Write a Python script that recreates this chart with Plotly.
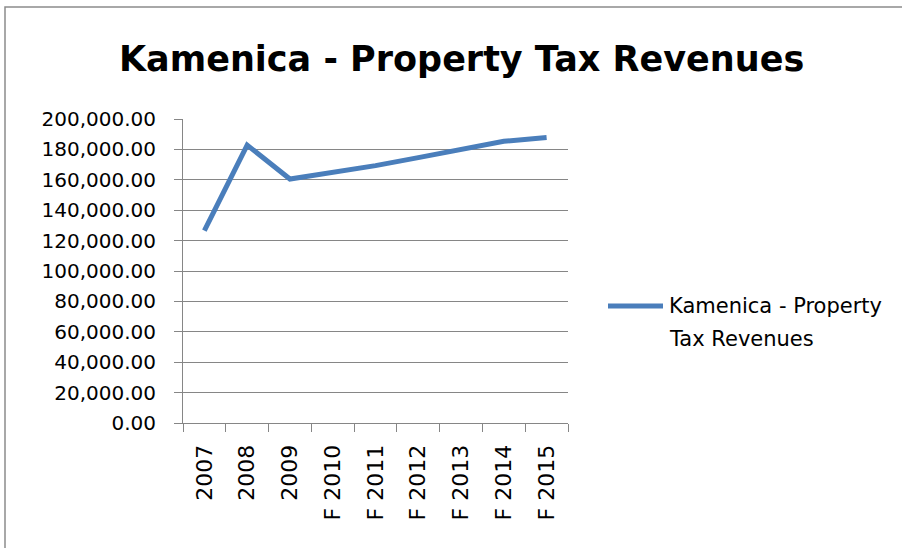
import plotly.graph_objects as go

categories = ["2007", "2008", "2009", "F 2010", "F 2011", "F 2012", "F 2013", "F 2014", "F 2015"]
revenues = [126600, 182800, 160500, 164600, 169300, 174600, 180000, 185300, 187800]
y_ticks = [0, 20000, 40000, 60000, 80000, 100000, 120000, 140000, 160000, 180000, 200000]
series_name = "Kamenica - Property Tax Revenues"
title_text = "Kamenica - Property Tax Revenues"

W, H = 902, 548
L, R, T, B = 183, 568, 119, 423
pw, ph = R - L, B - T

def px(x):
    return (x - L) / pw

def py(y):
    return (B - y) / ph

grid = "#868686"
blue = "#4A7EBB"
font = "DejaVu Sans"

fig = go.Figure()
fig.add_trace(go.Scatter(
    x=categories, y=revenues, mode="lines", name=series_name,
    line=dict(color=blue, width=5), showlegend=False,
))

fig.update_layout(
    width=W, height=H,
    margin=dict(l=L, r=W - R, t=T, b=H - B),
    paper_bgcolor="white", plot_bgcolor="white",
    font=dict(family=font, color="black", size=20),
    xaxis=dict(
        type="category", range=[-0.5, 8.5], tickangle=-90,
        showgrid=False, showline=True, linecolor=grid, linewidth=1,
        ticks="outside", tickson="boundaries", ticklen=8, tickcolor=grid,
        tickfont=dict(family=font, size=22), ticklabelstandoff=12,
        zeroline=False,
    ),
    yaxis=dict(
        range=[0, 200000], tickvals=y_ticks, tickformat=",.2f",
        showgrid=True, gridcolor=grid, gridwidth=1,
        showline=True, linecolor=grid, linewidth=1,
        ticks="outside", ticklen=8, tickcolor=grid,
        tickfont=dict(family=font, size=20), ticklabelstandoff=14,
        zeroline=False,
    ),
    shapes=[
        dict(type="rect", xref="paper", yref="paper",
             x0=px(5), x1=px(1000), y0=py(700), y1=py(7),
             line=dict(color="#8c8c8c", width=1.5), layer="below"),
        dict(type="line", xref="paper", yref="paper",
             x0=px(608), x1=px(663), y0=py(306), y1=py(306),
             line=dict(color=blue, width=5)),
    ],
    annotations=[
        dict(text="<b>" + title_text + "</b>", xref="paper", yref="paper",
             x=px(461), y=py(59), xanchor="center", yanchor="middle",
             showarrow=False, font=dict(family=font, size=35, color="black")),
        dict(text="Kamenica - Property", xref="paper", yref="paper",
             x=px(667), y=py(306), xanchor="left", yanchor="middle",
             showarrow=False, font=dict(family=font, size=21, color="black")),
        dict(text="Tax Revenues", xref="paper", yref="paper",
             x=px(667), y=py(339), xanchor="left", yanchor="middle",
             showarrow=False, font=dict(family=font, size=21, color="black")),
    ],
)

fig.write_html("out.html", config={"displayModeBar": False},
               post_script="document.body.style.margin='0';")
